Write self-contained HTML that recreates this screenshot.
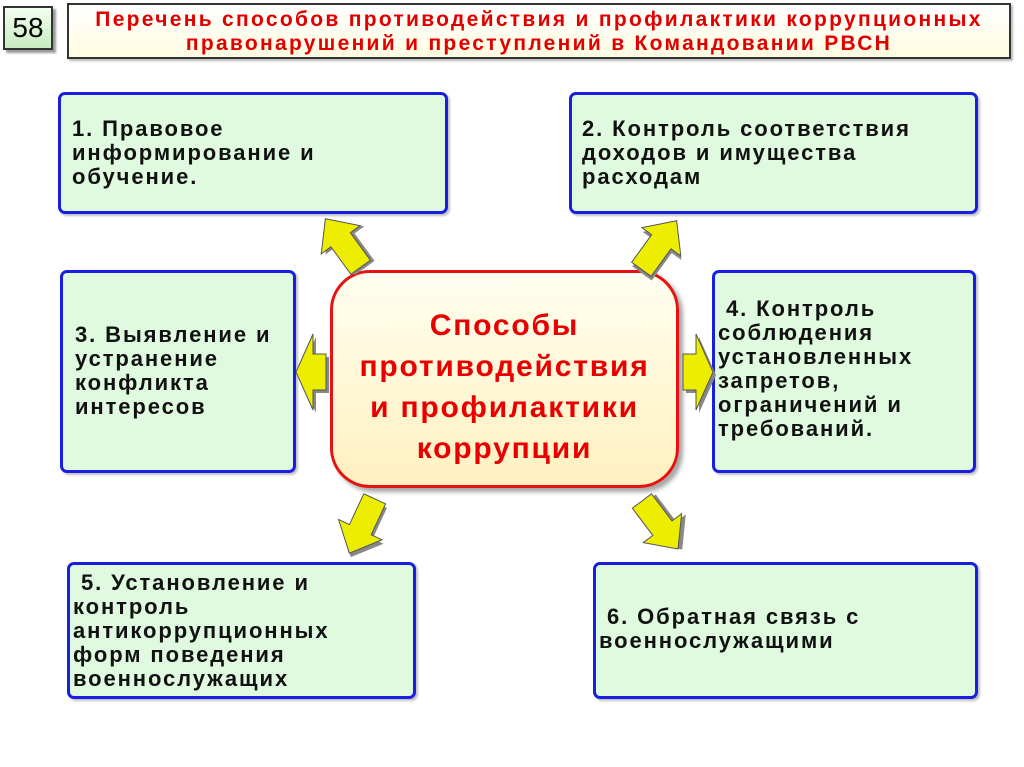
<!DOCTYPE html>
<html><head><meta charset="utf-8"><style>
body{margin:0;width:1024px;height:767px;background:#fff;position:relative;overflow:hidden;font-family:"Liberation Sans",sans-serif;}
.b{position:absolute;box-sizing:border-box;border:3px solid #1a1ee0;border-radius:7px;background:#e0fae0;font-weight:bold;font-size:22px;letter-spacing:1.9px;line-height:24px;color:#111;box-shadow:2px 2px 2px rgba(0,0,0,.25);white-space:nowrap;}
</style></head><body>
<div style="position:absolute;left:3px;top:6px;width:50px;height:44px;box-sizing:border-box;border:2px solid #333;background:linear-gradient(#f4fff0,#c8ecc0);box-shadow:3px 3px 2px #999;font-size:28px;text-align:center;line-height:40px;">58</div>
<div style="position:absolute;left:67px;top:3px;width:944px;height:56px;box-sizing:border-box;border:2px solid #333;background:linear-gradient(#fff,#fffbe0);box-shadow:2px 2px 2px #bbb;color:#e00000;font-weight:bold;font-size:21px;line-height:24px;text-align:center;padding-top:3px;letter-spacing:2.3px;white-space:nowrap;">Перечень способов противодействия и профилактики коррупционных<br>правонарушений и преступлений в Командовании РВСН</div>

<div class="b" style="left:58px;top:92px;width:390px;height:122px;padding:22px 0 0 11px;">1. Правовое<br>информирование и<br>обучение.</div>
<div class="b" style="left:569px;top:92px;width:409px;height:122px;padding:22px 0 0 10px;">2. Контроль соответствия<br>доходов и имущества<br>расходам</div>
<div class="b" style="left:60px;top:270px;width:236px;height:203px;padding:50px 0 0 12px;">3. Выявление и<br>устранение<br>конфликта<br>интересов</div>
<div class="b" style="left:712px;top:270px;width:264px;height:203px;padding:24px 0 0 3px;">&nbsp;4. Контроль<br>соблюдения<br>установленных<br>запретов,<br>ограничений и<br>требований.</div>
<div class="b" style="left:67px;top:562px;width:349px;height:137px;padding:6px 0 0 3px;">&nbsp;5. Установление и<br>контроль<br>антикоррупционных<br>форм поведения<br>военнослужащих</div>
<div class="b" style="left:593px;top:562px;width:385px;height:137px;padding:40px 0 0 3px;">&nbsp;6. Обратная связь с<br>военнослужащими</div>

<div style="position:absolute;left:330px;top:270px;width:349px;height:218px;box-sizing:border-box;border:3px solid #e81010;border-radius:40px;background:linear-gradient(#fffff0,#fff0c0);box-shadow:4px 4px 4px rgba(0,0,0,.35);color:#e80000;font-weight:bold;font-size:30px;letter-spacing:1.8px;line-height:41px;text-align:center;padding-top:32px;white-space:nowrap;">Способы<br>противодействия<br>и профилактики<br>коррупции</div>

<svg width="1024" height="767" style="position:absolute;left:0;top:0">
<defs>
<polygon id="d" points="0,-30 24,-4 12,-4 12,30 -12,30 -12,-4 -24,-4"/>
<polygon id="s" points="0,-15 38,2 18,2 18,15 -18,15 -18,2 -38,2"/>
</defs>
<g fill="#eded00" stroke="#555" stroke-width="1">
<g transform="translate(343,243) rotate(-36)"><use href="#d" fill="#888" stroke="none" transform="translate(3,3)"/><use href="#d"/></g>
<g transform="translate(659,245) rotate(36)"><use href="#d" fill="#888" stroke="none" transform="translate(3,3)"/><use href="#d"/></g>
<g transform="translate(362,526) rotate(205)"><use href="#d" fill="#888" stroke="none" transform="translate(-3,-3)"/><use href="#d"/></g>
<g transform="translate(660,525) rotate(143)"><use href="#d" fill="#888" stroke="none" transform="translate(-3,-3)"/><use href="#d"/></g>
<g transform="translate(311,372) rotate(-90)"><use href="#s" fill="#888" stroke="none" transform="translate(-3,3)"/><use href="#s"/></g>
<g transform="translate(698,372) rotate(90)"><use href="#s" fill="#888" stroke="none" transform="translate(3,-3)"/><use href="#s"/></g>
</g>
</svg>
</body></html>
